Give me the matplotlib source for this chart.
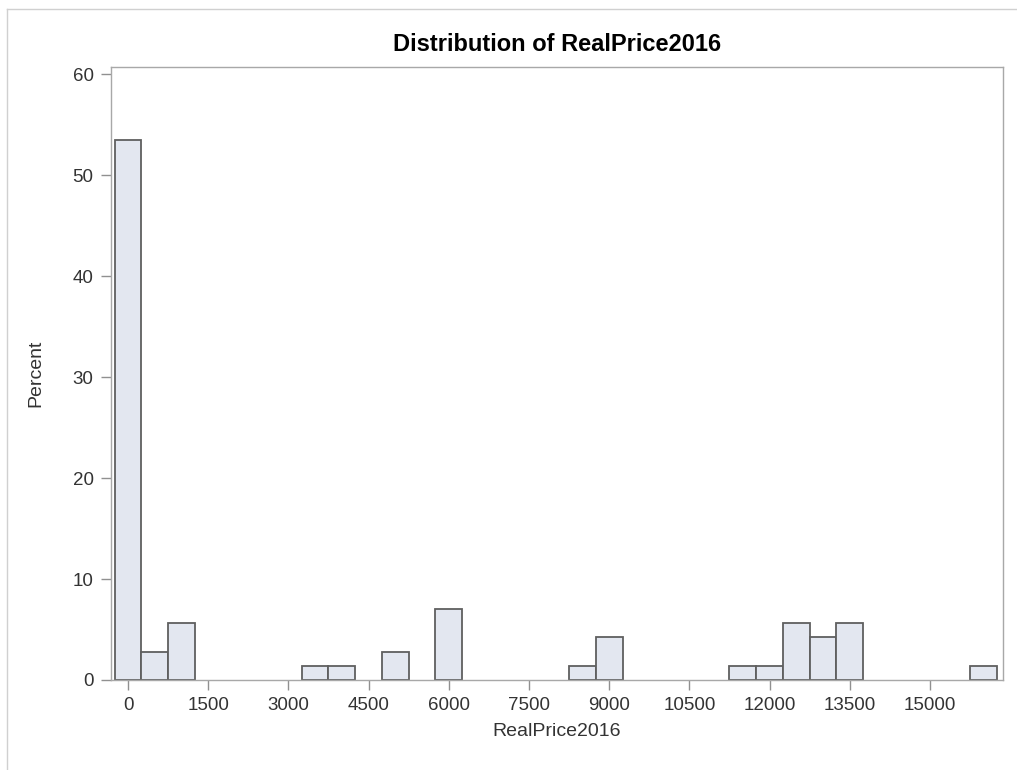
import matplotlib.pyplot as plt
from matplotlib.lines import Line2D

# bin midpoints (width 500) and counts, N = 71
midpoints = [0, 500, 1000, 3500, 4000, 5000, 6000, 8500, 9000,
             11500, 12000, 12500, 13000, 13500, 16000]
counts = [38, 2, 4, 1, 1, 2, 5, 1, 3, 1, 1, 4, 3, 4, 1]
total = 71
bin_width = 500
percent = [c / total * 100 for c in counts]

xticks = list(range(0, 15001, 1500))
yticks = list(range(0, 61, 10))

plt.rcParams['font.family'] = ['Liberation Sans', 'DejaVu Sans']

fig = plt.figure(figsize=(10.17, 7.7), dpi=100)
ax = fig.add_axes([111 / 1017, 1 - 680 / 770, (1003 - 111) / 1017, (680 - 66.7) / 770])

ax.bar(midpoints, percent, width=bin_width, color='#e3e7f0',
       edgecolor='#5f5f5f', linewidth=1.3)

ax.set_xlim(-318, 16367)
ax.set_ylim(0, 60.75)
ax.set_xticks(xticks)
ax.set_yticks(yticks)
ax.tick_params(axis='both', colors='#909090', labelcolor='#333333',
               labelsize=13.5, length=7.5, width=1)
ax.tick_params(axis='x', pad=5)
ax.tick_params(axis='y', pad=5)
for s in ax.spines.values():
    s.set_color('#a8a8a8')
    s.set_linewidth(1)

ax.set_xlabel('RealPrice2016', fontsize=14, color='#333333', labelpad=6)
ax.set_ylabel('Percent', fontsize=14, color='#333333', labelpad=20)
ax.set_title('Distribution of RealPrice2016', fontsize=17, fontweight='bold', pad=11)

# outer frame lines of the exported image
fig.add_artist(Line2D([7 / 1017, 7 / 1017], [0, 1 - 9 / 770], transform=fig.transFigure,
                      color='#d0d0d0', lw=1))
fig.add_artist(Line2D([7 / 1017, 1], [1 - 9 / 770, 1 - 9 / 770], transform=fig.transFigure,
                      color='#d0d0d0', lw=1))

fig.savefig('out.png', dpi=100)
